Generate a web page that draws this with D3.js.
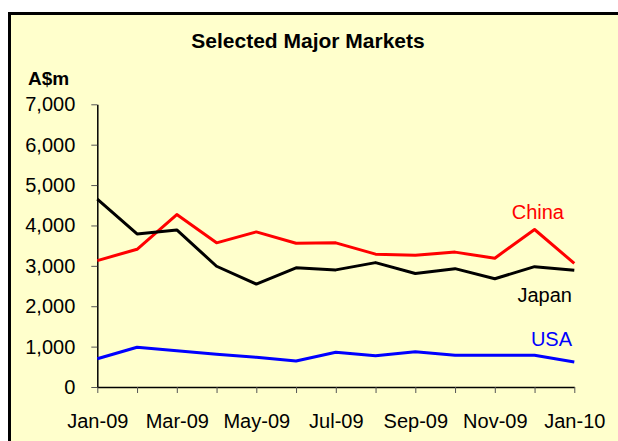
<!DOCTYPE html>
<html>
<head>
<meta charset="utf-8">
<script src="https://cdn.jsdelivr.net/npm/d3@7"></script>
<style>
  body { margin: 0; background: #fff; }
  svg { display: block; font-family: "Liberation Sans", Arial, sans-serif; }
</style>
</head>
<body>
<svg id="chart" width="618" height="441"></svg>
<script>
// data (A$m per month)
var months = ["Jan-09", "Feb-09", "Mar-09", "Apr-09", "May-09", "Jun-09", "Jul-09",
              "Aug-09", "Sep-09", "Oct-09", "Nov-09", "Dec-09", "Jan-10"];
var china = [3130, 3410, 4270, 3570, 3840, 3560, 3570, 3290, 3260, 3340, 3190, 3900, 3060];
var japan = [4650, 3790, 3890, 2990, 2550, 2950, 2900, 3080, 2810, 2930, 2680, 2980, 2890];
var usa   = [700, 985, 900, 810, 735, 645, 860, 775, 875, 785, 785, 785, 620];
var yTicks = [0, 1000, 2000, 3000, 4000, 5000, 6000, 7000];

var chart = {};
chart.svg = d3.select("#chart");
chart.left = 97.3;
chart.right = 574.3;
chart.top = 104.3;
chart.bottom = 387;

// outer frame, runs off the right and bottom edge like the original
chart.svg.append("rect")
    .attr("x", 9.5).attr("y", 13.5)
    .attr("width", 640).attr("height", 460)
    .attr("fill", "#FFFFCC")
    .attr("stroke", "#000")
    .attr("stroke-width", 3);

chart.x = d3.scalePoint().domain(months).range([chart.left, chart.right]);
chart.y = d3.scaleLinear().domain([0, 7000]).range([chart.bottom, chart.top]);

// title + unit
chart.svg.append("text")
    .attr("x", 308).attr("y", 48)
    .attr("text-anchor", "middle")
    .attr("font-weight", "bold")
    .attr("font-size", "21px")
    .text("Selected Major Markets");

chart.svg.append("text")
    .attr("x", 28).attr("y", 85)
    .attr("font-weight", "bold")
    .attr("font-size", "19px")
    .text("A$m");

// axes
var xAxis = chart.svg.append("g")
    .attr("transform", "translate(0," + chart.bottom + ")")
    .call(d3.axisBottom(chart.x)
        .tickSize(6).tickSizeOuter(0).tickPadding(21)
        .tickFormat(function(d, i) { return i % 2 === 0 ? d : ""; }));

var yAxis = chart.svg.append("g")
    .attr("transform", "translate(" + chart.left + ",0)")
    .call(d3.axisLeft(chart.y)
        .tickValues(yTicks)
        .tickSize(6).tickSizeOuter(0).tickPadding(16)
        .tickFormat(d3.format(",")));

[xAxis, yAxis].forEach(function(g) {
    g.selectAll("text")
        .attr("font-family", "'Liberation Sans', Arial, sans-serif")
        .attr("font-size", "20px")
        .attr("fill", "#000");
    g.select(".domain").attr("stroke", "#000").attr("stroke-width", 1.5);
    g.selectAll(".tick line").attr("stroke", "#555");
});

// lines
var line = d3.line()
    .x(function(d, i) { return chart.x(months[i]); })
    .y(function(d) { return chart.y(d); });

var series = [
    { name: "China", values: china, color: "#FF0000", lx: 564, ly: 219 },
    { name: "Japan", values: japan, color: "#000000", lx: 572, ly: 302 },
    { name: "USA",   values: usa,   color: "#0000FF", lx: 572, ly: 346 }
];

series.forEach(function(s) {
    chart.svg.append("path")
        .datum(s.values)
        .attr("d", line)
        .attr("fill", "none")
        .attr("stroke", s.color)
        .attr("stroke-width", 3)
        .attr("stroke-linejoin", "round");

    chart.svg.append("text")
        .attr("x", s.lx).attr("y", s.ly)
        .attr("text-anchor", "end")
        .attr("font-size", "20px")
        .attr("fill", s.color)
        .text(s.name);
});
</script>
</body>
</html>
